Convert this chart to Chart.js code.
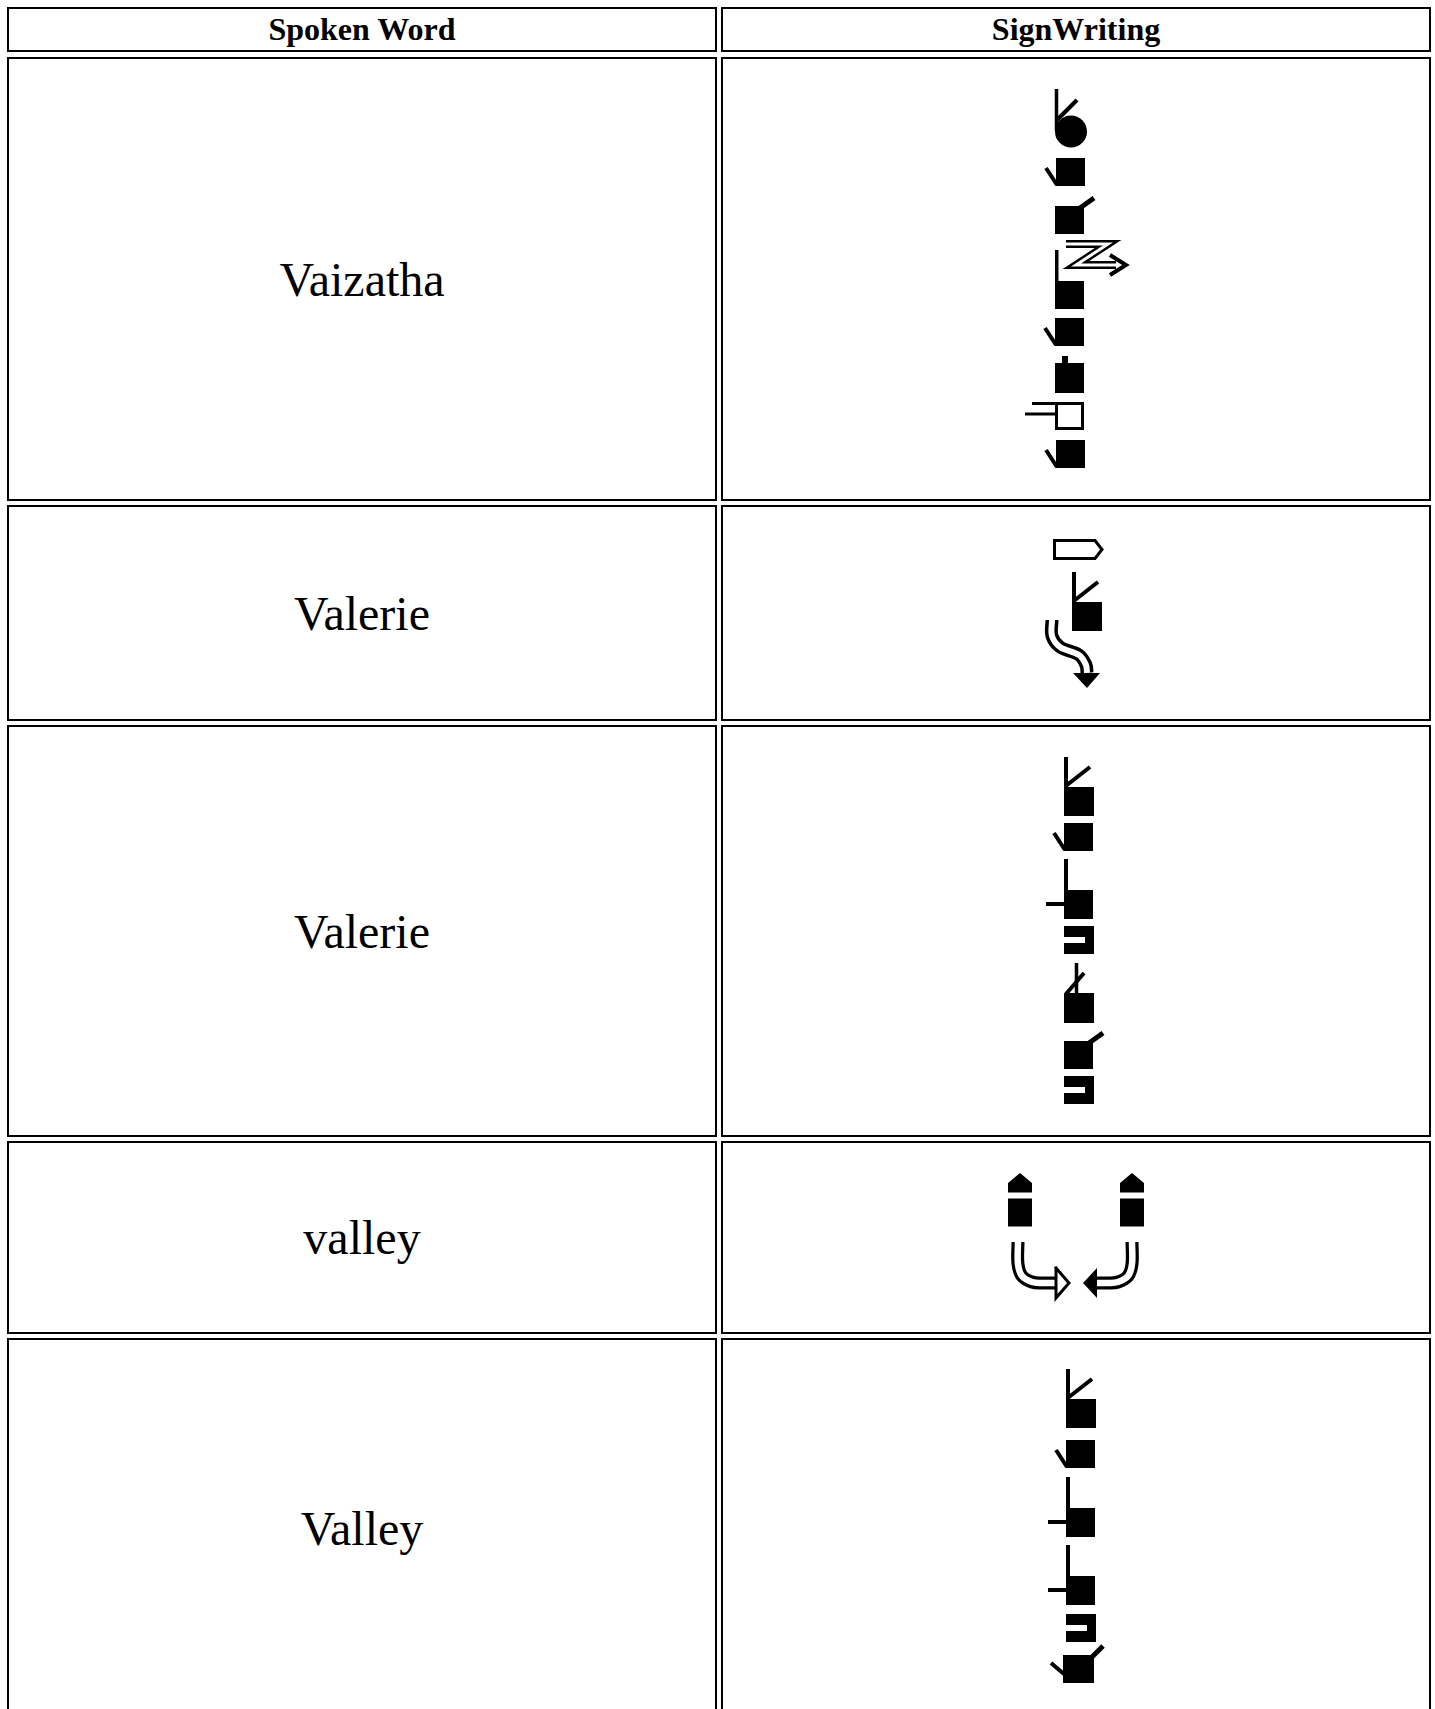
<!DOCTYPE html>
<html>
<head>
<meta charset="utf-8">
<script src="https://cdn.jsdelivr.net/npm/chart.js@4.4.0/dist/chart.umd.min.js"></script>
<style>
  html, body { margin: 0; padding: 0; background: #fff; }
  body { width: 1435px; height: 1709px; overflow: hidden; position: relative;
         font-family: "Liberation Serif", "Times New Roman", serif; color: #000; }
  .cell { position: absolute; box-sizing: border-box; border: 2px solid #000;
          display: flex; align-items: center; justify-content: center; }
  .head { font-weight: bold; font-size: 32px; }
  .word { font-size: 48px; }
  .cell canvas { position: absolute; left: 0; top: 0; }
</style>
</head>
<body>
<script>
// table text
const headers = ['Spoken Word', 'SignWriting'];
const spokenWords = ['Vaizatha', 'Valerie', 'Valerie', 'valley', 'Valley'];

// each sign: [symbol, x from the column centre, y from the row middle]
const signVaizatha = [
  ['circleHand', -21, -164],
  ['fistThumbDown', -20, -121],
  ['fistThumbUp', -21, -73],
  ['zigzagArrow', -10, -35],
  ['fistStem', -21, 2],
  ['fistThumbDown', -21, 39],
  ['fistTab', -21, 84],
  ['openSquare', -21, 123],
  ['fistThumbDown', -20, 161]
];
const signValerie1 = [
  ['pointerOutline', -23, -74],
  ['flatThumbDiag', -4, -11],
  ['sCurveArrow', -24, 7]
];
const signValerie2 = [
  ['flatThumbDiag', -12, -144],
  ['fistThumbDown', -12, -108],
  ['fistStemSide', -12, -41],
  ['fistNotch', -12, -5],
  ['fistStemCross', -12, 62],
  ['fistThumbUp', -12, 110],
  ['fistNotch', -12, 145]
];
const signValley1 = [
  ['house', -68, -64.5],
  ['house', 44, -64.5],
  ['curveArrowRight', -58, 4.5],
  ['curveArrowLeft', 56, 4.5]
];
const signValley2 = [
  ['flatThumbDiag', -10, -129],
  ['fistThumbDown', -10, -88],
  ['fistStemSide', -10, -20],
  ['fistStemSide', -10, 48],
  ['fistNotch', -10, 86],
  ['fistBothThumbs', -13, 127]
];
const signs = [signVaizatha, signValerie1, signValerie2, signValley1, signValley2];

// page layout
const rowTops = [7, 57, 505, 725, 1141, 1338];
const rowHeights = [45, 444, 216, 412, 193, 380];
const colLefts = [7, 721];
const colWidth = 710;

const BLACK = '#000';
const WHITE = '#fff';

// primitive builders (coordinates relative to the symbol anchor)
const rect = (x0, y0, x1, y1, color = BLACK) => ({ kind: 'rect', x0, y0, x1, y1, color });
const line = (pts, w, cap = 'butt', color = BLACK, tension = 0) => ({ kind: 'line', pts, w, cap, color, tension });
const dot = (x, y, r) => ({ kind: 'dot', x, y, r });
const peak = (pts, base) => ({ kind: 'peak', pts, base });
const between = (upper, lower) => ({ kind: 'between', upper, lower });
const doubleLine = (pts, outer, inner, tension) => [
  line(pts, outer, 'butt', BLACK, tension),
  line(pts, inner, 'butt', WHITE, tension)
];

const shapes = {
  circleHand: () => [dot(16, 16.5, 16), line([[1.5, -26], [1.5, 16]], 3.5), line([[2, 5], [22, -15]], 4)],
  fistThumbDown: () => [rect(0, 0, 29, 28), line([[-10, 10], [1, 27]], 4)],
  fistThumbUp: () => [rect(0, 0, 29, 28), line([[25, 2], [39, -8]], 5)],
  fistStem: () => [line([[1.75, -31], [1.75, 0]], 3.5), rect(0, 0, 29, 28)],
  fistTab: () => [rect(0, 0, 29, 30), rect(7, -7, 13, 1)],
  openSquare: () => [
    line([[1.5, 1.5], [27.5, 1.5], [27.5, 26.5], [1.5, 26.5], [1.5, 1.5]], 3, 'square'),
    line([[-23, 1.5], [1.5, 1.5]], 3),
    line([[-30, 12], [0, 12]], 3)
  ],
  flatThumbDiag: () => [line([[2, -30], [2, 1]], 4), line([[3, -2], [26, -20]], 4), rect(0, 0, 30, 29)],
  fistStemSide: () => [line([[2, -31], [2, 1]], 4), line([[-18, 14], [1, 14]], 4), rect(0, 0, 29, 29)],
  fistNotch: () => [rect(0, 0, 30, 28), rect(0, 11, 21, 17, WHITE)],
  fistStemCross: () => [line([[12.5, -30], [12.5, 1]], 3.5), line([[2, 1], [20, -20]], 4), rect(0, 0, 30, 30)],
  fistBothThumbs: () => [rect(0, 0, 31, 28), line([[29, 2], [40, -9]], 5), line([[-12, 8], [1, 19]], 4)],
  pointerOutline: () => [line([[1.5, 1.5], [42, 1.5], [49, 10.5], [42, 19.5], [1.5, 19.5], [1.5, 1.5]], 3, 'square')],
  house: () => [peak([[0, 10], [12, 0], [24, 10]], 19.5), rect(0, 25.5, 24, 53.5)],
  zigzagArrow: () => [
    ...doubleLine([[0, 0], [42, 0], [10, 21], [50, 21]], 8, 3, 0),
    line([[44, 11], [60, 21], [44, 31]], 4)
  ],
  sCurveArrow: () => [
    ...doubleLine([[0, 0], [0, 16], [8, 27], [27, 35], [34, 45], [35, 53]], 13, 6, 0.35),
    peak([[21, 53], [35, 68], [48, 53]], 53)
  ],
  curveArrowRight: () => [
    ...doubleLine([[0, 0], [0, 22], [4, 34], [14, 40], [24, 41], [38, 41]], 13, 6.5, 0.35),
    line([[38, 26], [51, 41], [38, 56], [38, 26]], 3, 'square')
  ],
  curveArrowLeft: () => [
    ...doubleLine([[0, 0], [0, 22], [-4, 34], [-14, 40], [-24, 41], [-35, 41]], 13, 6.5, 0.35),
    between([[-49, 41], [-35, 26]], [[-49, 41], [-35, 56]])
  ]
};

const pt = (p, ax, ay) => ({ x: p[0] + ax, y: p[1] + ay });

function signDatasets(sign) {
  const out = [];
  const plain = { pointRadius: 0, borderWidth: 0, borderColor: 'transparent', fill: false, tension: 0 };
  sign.forEach(([name, ax, ay]) => {
    shapes[name]().forEach(p => {
      if (p.kind === 'rect') {
        out.push({ ...plain, data: [pt([p.x0, p.y0], ax, ay), pt([p.x1, p.y0], ax, ay)],
                   fill: { value: p.y1 + ay }, backgroundColor: p.color });
      } else if (p.kind === 'line') {
        out.push({ ...plain, data: p.pts.map(q => pt(q, ax, ay)), borderWidth: p.w,
                   borderColor: p.color, borderCapStyle: p.cap, borderJoinStyle: 'miter', tension: p.tension });
      } else if (p.kind === 'dot') {
        out.push({ ...plain, data: [pt([p.x, p.y], ax, ay)], showLine: false, pointRadius: p.r,
                   pointStyle: 'circle', pointBackgroundColor: BLACK, pointBorderWidth: 0 });
      } else if (p.kind === 'peak') {
        out.push({ ...plain, data: p.pts.map(q => pt(q, ax, ay)), fill: { value: p.base + ay }, backgroundColor: BLACK });
      } else if (p.kind === 'between') {
        out.push({ ...plain, data: p.upper.map(q => pt(q, ax, ay)), fill: '+1', backgroundColor: BLACK });
        out.push({ ...plain, data: p.lower.map(q => pt(q, ax, ay)) });
      }
    });
  });
  // later symbols are painted over earlier ones
  out.forEach((d, i) => { d.order = -i; });
  return out;
}

function makeCell(col, row, cls) {
  const d = document.createElement('div');
  d.className = 'cell ' + cls;
  d.style.left = colLefts[col] + 'px';
  d.style.top = rowTops[row] + 'px';
  d.style.width = colWidth + 'px';
  d.style.height = rowHeights[row] + 'px';
  document.body.appendChild(d);
  return d;
}

headers.forEach((h, c) => { makeCell(c, 0, 'head').textContent = h; });

spokenWords.forEach((word, i) => {
  makeCell(0, i + 1, 'word').textContent = word;
  const cell = makeCell(1, i + 1, 'sign');
  const w = colWidth - 4;
  const h = rowHeights[i + 1] - 4;
  const canvas = document.createElement('canvas');
  canvas.width = w;
  canvas.height = h;
  cell.appendChild(canvas);
  new Chart(canvas.getContext('2d'), {
    type: 'line',
    data: { datasets: signDatasets(signs[i]) },
    options: {
      responsive: false,
      animation: false,
      devicePixelRatio: 1,
      events: [],
      layout: { padding: 0, autoPadding: false },
      plugins: { legend: { display: false }, tooltip: { enabled: false } },
      scales: {
        x: { type: 'linear', display: false, min: -w / 2, max: w / 2 },
        y: { type: 'linear', display: false, min: -h / 2, max: h / 2, reverse: true }
      }
    }
  });
});
</script>
</body>
</html>
